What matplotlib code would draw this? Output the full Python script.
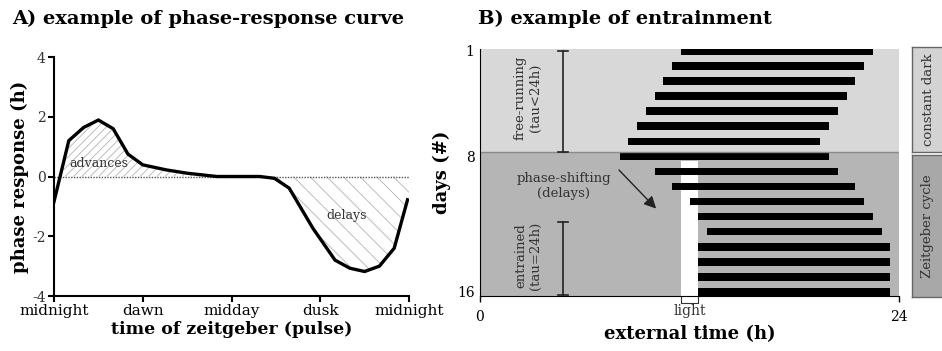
import numpy as np
import matplotlib.pyplot as plt
from matplotlib.patches import Rectangle

plt.rcParams['font.family'] = ['DejaVu Serif']
plt.rcParams['hatch.linewidth'] = 0.6

# phase-response curve (hours after midnight vs. shift in hours)
prc_time = [0, 1, 2, 3, 4, 5, 6, 7.6, 9, 11, 13.9, 14.9, 15.9, 17.5, 19, 20, 21, 22, 23, 23.9]
prc_shift = [-0.84, 1.2, 1.64, 1.89, 1.6, 0.75, 0.39, 0.22, 0.11, 0.0, 0.0, -0.06, -0.39,
             -1.73, -2.8, -3.07, -3.18, -3.0, -2.4, -0.78]
time_ticks = [0, 6, 12, 18, 24]
time_labels = ['midnight', 'dawn', 'midday', 'dusk', 'midnight']

# actogram: activity onset / offset (external time, h) for each day
act_start = [11.5, 11.0, 10.5, 10.0, 9.5, 9.0, 8.5, 8.0, 10.0, 11.0, 12.0, 12.5, 13.0,
             12.5, 12.5, 12.5, 12.5]
act_end = [22.5, 22.0, 21.5, 21.0, 20.5, 20.0, 19.5, 20.0, 20.5, 21.5, 22.0, 22.5, 23.0,
           23.5, 23.5, 23.5, 23.5]
light_on, light_off = 11.5, 12.5
day_ticks = [1, 8, 17]
day_labels = ['1', '8', '16']

W, H = 942, 351
fig = plt.figure(figsize=(W / 100, H / 100), dpi=100)


def box(l, t, r, b):
    # pixel box -> figure fraction rect
    return [l / W, 1 - b / H, (r - l) / W, (b - t) / H]


# ---------------- A) phase-response curve ----------------
ax = fig.add_axes(box(54, 57, 409, 296))
t = np.array(prc_time)
s = np.array(prc_shift)
adv = t <= 12
ax.fill_between(t[adv], s[adv], 0, where=s[adv] >= 0, interpolate=True,
                facecolor='white', edgecolor='#b4b4b4', hatch='////', linewidth=0)
dl = t >= 13.9
tx = np.append(t[dl], 24)
sx = np.append(s[dl], s[-1])
ax.fill_between(tx, sx, 0, facecolor='white', edgecolor='#b4b4b4', hatch='\\\\',
                linewidth=0)
ax.plot([0, 24], [0, 0], ls=(0, (1, 1)), color='#555555', lw=1)
ax.plot(t, s, color='black', lw=2.4, solid_joinstyle='miter')
ax.text(3.0, 0.45, 'advances', ha='center', va='center', fontsize=9, color='#333333')
ax.text(19.8, -1.3, 'delays', ha='center', va='center', fontsize=9, color='#333333')
ax.set_xlim(0, 24)
ax.set_ylim(-4, 4)
ax.set_xticks(time_ticks)
ax.set_xticklabels(time_labels, fontsize=11)
ax.set_yticks([-4, -2, 0, 2, 4])
ax.set_yticklabels(['-4', '-2', '0', '2', '4'], fontsize=10, color='#333333')
ax.spines['top'].set_visible(False)
ax.spines['right'].set_visible(False)
ax.spines['left'].set_linewidth(1.5)
ax.spines['bottom'].set_linewidth(1.5)
ax.tick_params(width=1.5, length=4, pad=2)
ax.set_xlabel('time of zeitgeber (pulse)', fontsize=12.5, fontweight='bold', labelpad=2)
ax.set_ylabel('phase response (h)', fontsize=13, fontweight='bold', labelpad=2)
fig.text(12 / W, 1 - 19 / H, 'A) example of phase-response curve', fontsize=14,
         fontweight='bold', va='center', ha='left')

# ---------------- B) entrainment actogram ----------------
bx = fig.add_axes(box(480, 48.7, 899, 295.7))
top, bottom, divider = 0.85, 17.25, 7.72
bx.set_xlim(0, 24)
bx.set_ylim(bottom, top)
bx.add_patch(Rectangle((0, top), 24, divider - top, facecolor='#d8d8d8', edgecolor='none'))
bx.add_patch(Rectangle((0, divider), 24, bottom - divider, facecolor='#b5b5b5', edgecolor='none'))
bx.axhline(divider, color='#8a8a8a', lw=1)
bx.add_patch(Rectangle((light_on, 8.3), light_off - light_on, bottom - 8.3,
                       facecolor='white', edgecolor='none'))
days = np.arange(1, len(act_start) + 1)
bx.barh(days, np.array(act_end) - np.array(act_start), left=act_start, height=0.5,
        color='black')

# range markers
for y0, y1 in [(0.98, 7.69), (12.33, 17.18)]:
    bx.plot([4.75, 4.75], [y0, y1], color='#222222', lw=1.2)
    bx.plot([4.45, 5.05], [y0, y0], color='#222222', lw=1.2)
    bx.plot([4.45, 5.05], [y1, y1], color='#222222', lw=1.2)
bx.text(2.75, 4.1, 'free-running\n(tau<24h)', rotation=90, ha='center', va='center',
        fontsize=9.5, color='#333333', linespacing=1.2)
bx.text(2.75, 14.6, 'entrained\n(tau=24h)', rotation=90, ha='center', va='center',
        fontsize=9.5, color='#333333', linespacing=1.2)
bx.text(4.8, 9.95, 'phase-shifting\n(delays)', ha='center', va='center', fontsize=9.5,
        color='#333333', linespacing=1.2)
bx.annotate('', xy=(10.2, 11.6), xytext=(7.85, 8.77),
            arrowprops=dict(arrowstyle='-|>', color='#222222', lw=1, mutation_scale=18))

# light bracket below the time axis
trans = bx.get_xaxis_transform()
bx.plot([light_on, light_on, light_off, light_off], [0, -0.03, -0.03, 0], color='#333333',
        lw=0.8, transform=trans, clip_on=False)
bx.text(12, -0.062, 'light', transform=trans, ha='center', va='center', fontsize=10,
        color='#333333')

bx.set_xticks([0, 24])
bx.set_xticklabels(['0', '24'], fontsize=10)
bx.set_yticks(day_ticks)
bx.set_yticklabels(day_labels, fontsize=10)
bx.tick_params(axis='y', length=0, pad=4)
bx.tick_params(axis='x', length=4, width=1, pad=6)
bx.spines['top'].set_visible(False)
bx.spines['right'].set_visible(False)
bx.set_xlabel('external time (h)', fontsize=13, fontweight='bold', labelpad=1)
bx.set_ylabel('days (#)', fontsize=13, fontweight='bold', labelpad=4)
fig.text(478 / W, 1 - 19 / H, 'B) example of entrainment', fontsize=14,
         fontweight='bold', va='center', ha='left')

# condition boxes on the right
for (t0, b0, col, label) in [(47.3, 151.7, '#d3d3d3', 'constant dark'),
                             (155, 296.7, '#a8a8a8', 'Zeitgeber cycle')]:
    cx = fig.add_axes(box(912, t0, 950, b0))
    cx.set_facecolor(col)
    cx.set_xticks([])
    cx.set_yticks([])
    for sp in cx.spines.values():
        sp.set_color('#666666')
        sp.set_linewidth(1)
    fig.text(928 / W, 1 - (t0 + b0) / 2 / H, label, rotation=90, ha='center', va='center',
             fontsize=9.5, color='#333333')

fig.savefig('out.png', dpi=100)
